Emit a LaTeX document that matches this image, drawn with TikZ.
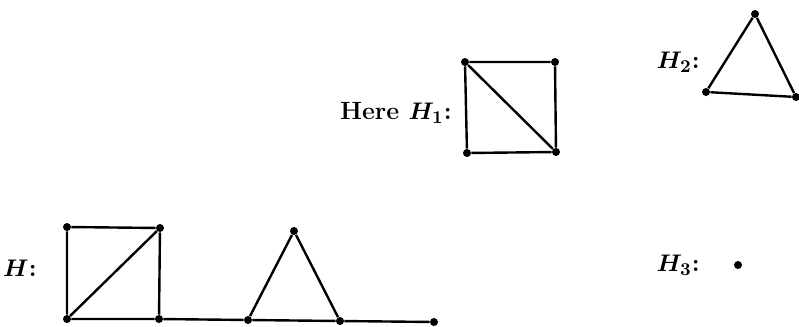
\documentclass[tikz,border=0pt]{standalone}
\usepackage{bm}
\begin{document}
\begin{tikzpicture}[x=0.5pt,y=-0.5pt,
  dot/.style={circle,fill=black,inner sep=0pt,minimum size=4pt},
  edge/.style={line width=1.2pt},
  lab/.style={anchor=east,inner sep=0pt,font=\fontsize{12.5}{14}\selectfont\bfseries}]
\useasboundingbox (0,0) rectangle (799,327);
% H1
\node[lab] (l1) at (452,113) {Here $\bm{H_1}$:};
\node[dot] (a1) at (465,62) {};
\node[dot] (a2) at (555,62) {};
\node[dot] (a3) at (556,152) {};
\node[dot] (a4) at (467,153) {};
\draw[edge] (a1) -- (a2) -- (a3) -- (a4) -- (a1);
\draw[edge] (a1) -- (a3);
% H2
\node[lab] (l2) at (700,62) {$\bm{H_2}$:};
\node[dot] (b1) at (755,14) {};
\node[dot] (b2) at (706,92) {};
\node[dot] (b3) at (796,97) {};
\draw[edge] (b1) -- (b2) -- (b3) -- (b1);
% H
\node[lab] (l3) at (37,268) {$\bm{H}$:};
\node[dot] (c1) at (67,227) {};
\node[dot] (c2) at (160,228) {};
\node[dot] (c3) at (159,319) {};
\node[dot] (c4) at (67,319) {};
\node[dot] (c5) at (248,320) {};
\node[dot] (c6) at (294,231) {};
\node[dot] (c7) at (340,321) {};
\node[dot] (c8) at (434,322) {};
\draw[edge] (c1) -- (c2) -- (c3) -- (c4) -- (c1);
\draw[edge] (c4) -- (c2);
\draw[edge] (c3) -- (c5) -- (c7) -- (c8);
\draw[edge] (c5) -- (c6) -- (c7);
% H3
\node[lab] (l4) at (700,265) {$\bm{H_3}$:};
\node[dot] (d1) at (738,265) {};
\end{tikzpicture}
\end{document}
